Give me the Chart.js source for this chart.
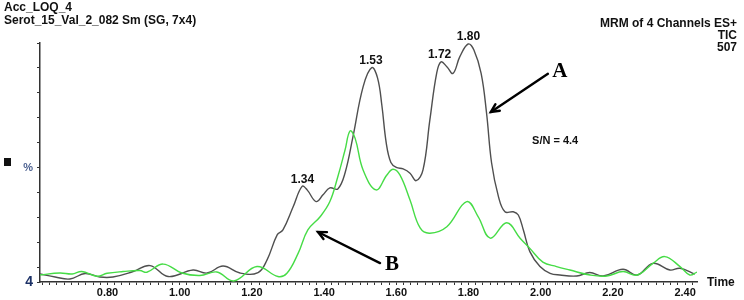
<!DOCTYPE html>
<html>
<head>
<meta charset="utf-8">
<script src="https://cdn.jsdelivr.net/npm/chart.js@4/dist/chart.umd.min.js"></script>
<style>
html,body{margin:0;padding:0;background:#fff;}
#wrap{width:744px;height:300px;position:relative;}
</style>
</head>
<body>
<div id="wrap"><canvas id="c" width="744" height="300"></canvas></div>
<script>
// ---- data (retention time in min, relative intensity %) ----
const blackTime = [0.613,0.655,0.696,0.738,0.779,0.815,0.871,0.918,0.968,1.037,1.076,1.120,1.167,1.217,1.242,1.270,1.286,1.314,1.339,1.353,1.378,1.397,1.416,1.438,1.458,1.480,1.508,1.532,1.548,1.560,1.572,1.585,1.600,1.619,1.638,1.655,1.674,1.693,1.712,1.724,1.740,1.757,1.776,1.799,1.815,1.835,1.850,1.864,1.883,1.901,1.924,1.938,1.952,1.970,1.998,2.026,2.053,2.100,2.136,2.173,2.228,2.267,2.311,2.358,2.386,2.427];
const blackValue = [7.2,6.0,5.2,7.4,6.0,6.0,8.2,10.6,6.2,8.8,7.6,10.4,7.6,7.8,12.9,22.9,24.9,34.1,42.4,41.0,36.3,39.0,41.8,41.4,47.8,62.4,82.4,90.1,86.0,75.0,60.0,52.0,50.0,49.4,47.7,44.7,49.0,69.1,88.0,92.4,90.5,87.8,94.5,99.6,97.2,87.8,71.9,51.8,38.3,32.2,32.2,30.9,24.9,16.2,10.2,7.5,6.8,6.4,7.8,6.4,9.1,6.8,11.5,8.8,9.5,7.2];

const greenTime = [0.613,0.668,0.702,0.729,0.771,0.799,0.843,0.890,0.909,0.954,1.006,1.056,1.103,1.150,1.214,1.272,1.297,1.328,1.355,1.389,1.416,1.438,1.458,1.472,1.486,1.508,1.544,1.574,1.591,1.610,1.638,1.666,1.693,1.740,1.795,1.827,1.860,1.906,1.943,1.970,2.006,2.044,2.081,2.137,2.183,2.228,2.267,2.311,2.344,2.386,2.413,2.433];
const greenValue = [6.8,7.6,7.2,8.2,6.3,7.5,8.2,8.6,7.9,11.2,7.6,6.6,8.0,4.4,10.2,6.2,7.5,15.5,24.9,30.2,36.3,46.3,57.0,64.7,61.7,49.0,41.0,47.0,49.3,47.0,36.9,25.7,23.6,26.2,36.3,30.2,21.6,27.8,21.6,17.5,12.0,10.2,8.8,6.8,6.4,8.2,6.8,11.5,14.2,10.2,6.8,8.0];

const xTickLabels = ['0.80','1.00','1.20','1.40','1.60','1.80','2.00','2.20','2.40'];
const peakLabels = ['1.34','1.53','1.72','1.80'];
const titleLines = ['Acc_LOQ_4','Serot_15_Val_2_082 Sm (SG, 7x4)'];
const infoLines = ['MRM of 4 Channels ES+','TIC','507'];
const snText = 'S/N = 4.4';

const X_MIN = 0.613, X_MAX = 2.433, Y_MIN = 4, Y_MAX = 100;
const FONT = '"Liberation Sans", Arial, sans-serif';

// minor ticks every 0.02 min
const xTickValues = [];
for (let i = 31; i <= 121; i++) xTickValues.push(+(i * 0.02).toFixed(2));
const yTickValues = [4,10,20,30,40,50,60,70,80,90,100];

const toXY = (ts, vs) => ts.map((t, i) => ({x: t, y: vs[i]}));

// annotation placement in data units
const notes = {
  A: {t: 2.053, v: 88.4},
  arrowA: {from: {t: 2.020, v: 87.6}, to: {t: 1.862, v: 72.3}},
  B: {t: 1.588, v: 10.8},
  arrowB: {from: {t: 1.555, v: 11.6}, to: {t: 1.383, v: 24.1}},
  sn: {t: 2.040, v: 60.6}
};

function drawArrow(ctx, x1, y1, x2, y2) {
  const ang = Math.atan2(y2 - y1, x2 - x1);
  const len = 9;
  ctx.save();
  ctx.strokeStyle = '#000';
  ctx.lineWidth = 2.4;
  ctx.lineCap = 'round';
  ctx.beginPath();
  ctx.moveTo(x1, y1);
  ctx.lineTo(x2, y2);
  ctx.stroke();
  ctx.beginPath();
  ctx.moveTo(x2 - len * Math.cos(ang - 0.45), y2 - len * Math.sin(ang - 0.45));
  ctx.lineTo(x2, y2);
  ctx.lineTo(x2 - len * Math.cos(ang + 0.45), y2 - len * Math.sin(ang + 0.45));
  ctx.stroke();
  ctx.restore();
}

const annot = {
  id: 'annot',
  afterDraw(chart) {
    const ctx = chart.ctx, xs = chart.scales.x, ys = chart.scales.y;
    const px = t => xs.getPixelForValue(t), py = v => ys.getPixelForValue(v);
    ctx.save();
    ctx.fillStyle = '#111';
    ctx.font = 'bold 12px ' + FONT;
    ctx.textAlign = 'left';
    ctx.textBaseline = 'alphabetic';
    ctx.fillText(titleLines[0], 4, 11);
    ctx.fillText(titleLines[1], 4, 24);
    ctx.textAlign = 'right';
    ctx.fillText(infoLines[0], 737, 27);
    ctx.fillText(infoLines[1], 737, 39);
    ctx.fillText(infoLines[2], 737, 51);
    ctx.textAlign = 'left';
    ctx.fillText('Time', xs.right + 10, xs.top + 4);
    ctx.fillRect(4, 158, 7, 8);
    // peak labels
    ctx.textAlign = 'center';
    peakLabels.forEach(lbl => {
      const t = parseFloat(lbl);
      let best = 0;
      blackTime.forEach((bt, i) => { if (Math.abs(bt - t) < Math.abs(blackTime[best] - t)) best = i; });
      ctx.fillText(lbl, px(t), py(blackValue[best]) - 3.5);
    });
    ctx.font = 'bold 11px ' + FONT;
    ctx.textBaseline = 'middle';
    ctx.fillText(snText, px(notes.sn.t), py(notes.sn.v));
    ctx.font = 'bold 21px "Liberation Serif", "Times New Roman", serif';
    ctx.fillStyle = '#000';
    ctx.fillText('A', px(notes.A.t), py(notes.A.v));
    ctx.fillText('B', px(notes.B.t), py(notes.B.v));
    drawArrow(ctx, px(notes.arrowA.from.t), py(notes.arrowA.from.v), px(notes.arrowA.to.t), py(notes.arrowA.to.v));
    drawArrow(ctx, px(notes.arrowB.from.t), py(notes.arrowB.from.v), px(notes.arrowB.to.t), py(notes.arrowB.to.v));
    ctx.restore();
  }
};

new Chart(document.getElementById('c'), {
  type: 'line',
  data: {
    datasets: [
      {label: 'A', data: toXY(blackTime, blackValue), borderColor: '#4f4f4f', borderWidth: 1.4,
       pointRadius: 0, tension: 0.4, fill: false, order: 1},
      {label: 'B', data: toXY(greenTime, greenValue), borderColor: '#46dc46', borderWidth: 1.4,
       pointRadius: 0, tension: 0.4, fill: false, order: 0}
    ]
  },
  options: {
    responsive: false,
    animation: false,
    layout: {padding: {top: 43, right: 47, left: 0, bottom: 0}},
    plugins: {legend: {display: false}, tooltip: {enabled: false}},
    scales: {
      x: {
        type: 'linear', min: X_MIN, max: X_MAX,
        afterBuildTicks: s => { s.ticks = xTickValues.map(v => ({value: v})); },
        afterFit: s => { s.height = 18; },
        ticks: {
          autoSkip: false, maxRotation: 0, padding: 1,
          color: '#111', font: {family: FONT, size: 11, weight: 'bold'},
          callback: v => { const l = xTickLabels.find(s => Math.abs(parseFloat(s) - v) < 1e-6); return l || ''; }
        },
        grid: {drawOnChartArea: false, drawTicks: true, tickLength: 3, color: '#333', lineWidth: 1},
        border: {display: true, color: '#333', width: 1.5}
      },
      y: {
        min: Y_MIN, max: Y_MAX,
        afterBuildTicks: s => { s.ticks = yTickValues.map(v => ({value: v})); },
        afterFit: s => { s.width = 40; },
        ticks: {
          autoSkip: false, padding: 4,
          color: c => c.tick && c.tick.value === 4 ? '#1c3166' : '#4a5f8f',
          font: c => (c.tick && c.tick.value === 4) ? {family: FONT, size: 14, weight: 'bold'} : {family: FONT, size: 11, weight: 'bold'},
          callback: v => v === 4 ? '4' : (v === 50 ? '%' : '')
        },
        grid: {drawOnChartArea: false, drawTicks: true, tickLength: 3, color: '#333', lineWidth: 1},
        border: {display: true, color: '#333', width: 1.5}
      }
    }
  },
  plugins: [annot]
});
</script>
</body>
</html>
